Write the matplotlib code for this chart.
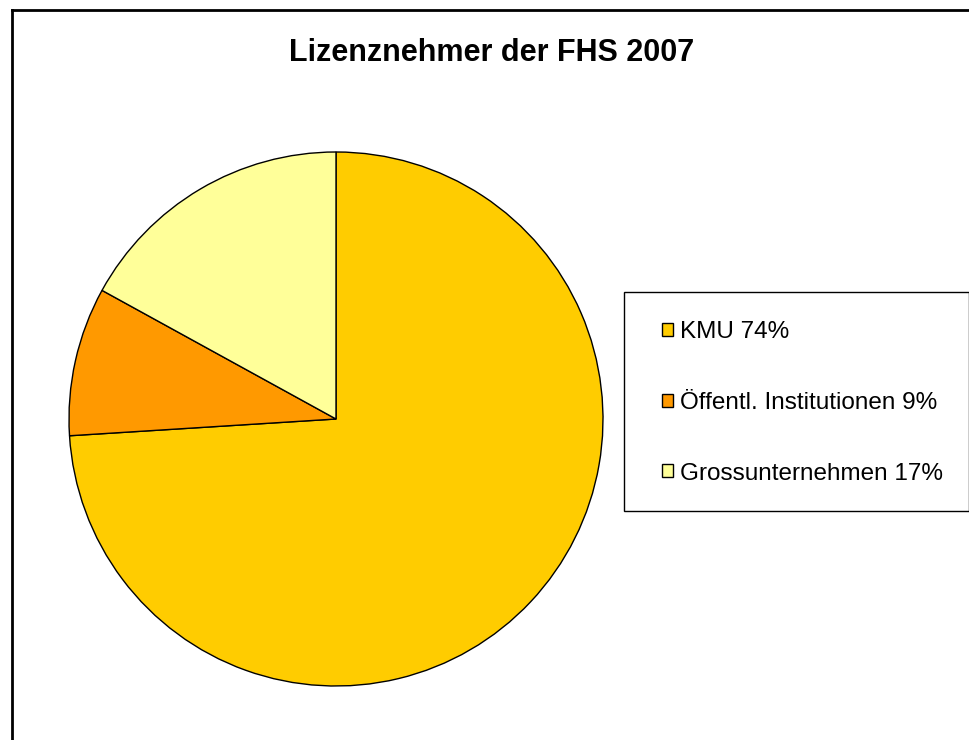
import matplotlib.pyplot as plt
from matplotlib.patches import Rectangle
from matplotlib.lines import Line2D

plt.rcParams['font.family'] = ['Liberation Sans', 'DejaVu Sans']

labels = ["KMU 74%", "Öffentl. Institutionen 9%", "Grossunternehmen 17%"]
shares = [74, 9, 17]
colors = ["#FFCC00", "#FF9900", "#FFFF99"]

W, H = 969, 740
fig = plt.figure(figsize=(W / 100, H / 100), dpi=100)

# outer frame (only top and left visible in the original)
fig.add_artist(Line2D([12 / W, 12 / W], [0, 1 - 10 / H], color="black", lw=2))
fig.add_artist(Line2D([12 / W, 1], [1 - 10 / H, 1 - 10 / H], color="black", lw=2))

fig.text(492 / W, 1 - 53 / H, "Lizenznehmer der FHS 2007", ha="center", va="center",
         fontsize=22, fontweight="bold")

# pie axes, centre (336, 419), radius 267 px
cx, cy, r = 336, 419, 267
ax = fig.add_axes([(cx - r) / W, (H - cy - r) / H, 2 * r / W, 2 * r / H])
wedges, _ = ax.pie(shares, colors=colors, startangle=90, counterclock=False,
                   wedgeprops=dict(edgecolor="black", linewidth=1))
ax.set_xlim(-1, 1)
ax.set_ylim(-1, 1)

# legend box
fig.add_artist(Rectangle((624 / W, 1 - 511 / H), (W - 624) / W, 219 / H,
                         transform=fig.transFigure, fill=False, edgecolor="black", lw=1))
fig.legend(wedges, labels, loc="center left", bbox_to_anchor=(640 / W, 1 - 403 / H),
           frameon=False, fontsize=17.5, labelspacing=2.0, handlelength=0.45,
           handleheight=0.45, handletextpad=0.3)

fig.savefig("out.png", dpi=100)
